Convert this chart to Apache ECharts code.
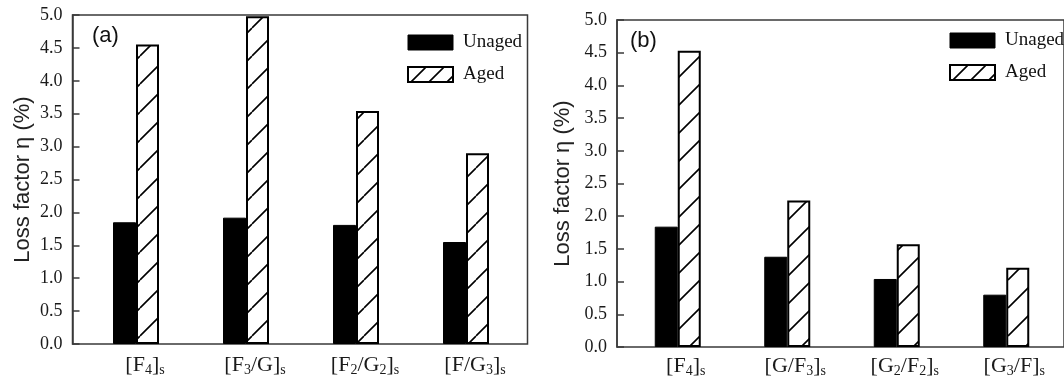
<!DOCTYPE html>
<html>
<head>
<meta charset="utf-8">
<script src="https://cdn.jsdelivr.net/npm/echarts@6/dist/echarts.min.js"></script>
<style>
  html, body { margin: 0; padding: 0; background: #fff; }
  #chart { width: 1064px; height: 385px; }
</style>
</head>
<body>
<div id="chart"></div>
<script>
// data ("_x" = subscript x)
var categoriesA = ['[F_4]_s', '[F_3/G]_s', '[F_2/G_2]_s', '[F/G_3]_s'];
var unagedA = [1.85, 1.92, 1.81, 1.55];
var agedA = [4.55, 4.98, 3.54, 2.90];

var categoriesB = ['[F_4]_s', '[G/F_3]_s', '[G_2/F_2]_s', '[G_3/F]_s'];
var unagedB = [1.84, 1.38, 1.04, 0.80];
var agedB = [4.53, 2.24, 1.57, 1.21];

var seriesNames = ['Unaged', 'Aged'];

// diagonal hatch tile
function hatch(size, lw) {
  var c = document.createElement('canvas');
  c.width = size;
  c.height = size;
  var g = c.getContext('2d');
  g.fillStyle = '#fff';
  g.fillRect(0, 0, size, size);
  g.strokeStyle = '#000';
  g.lineWidth = lw;
  g.beginPath();
  for (var k = -1; k <= 1; k++) {
    g.moveTo(k * size, size);
    g.lineTo(k * size + size, 0);
  }
  g.stroke();
  return { image: c, repeat: 'repeat' };
}
var barHatch = hatch(28, 1.6);
var legendHatch = hatch(18, 1.6);

function subLabel(v) {
  return '{n|' + v.replace(/_(.)/g, '}{sub|$1}{n|') + '}';
}

var serif = 'Liberation Serif';
var sans = 'Liberation Sans';
var frameColor = '#3a3a3a';

function frameYAxis(gridIndex, gap) {
  return {
    gridIndex: gridIndex,
    type: 'value',
    min: 0,
    max: 5,
    interval: 0.5,
    name: 'Loss factor \u03b7 (%)',
    nameLocation: 'middle',
    nameGap: gap,
    nameTextStyle: { fontFamily: sans, fontSize: 22, color: '#222' },
    axisLine: { show: true, lineStyle: { color: frameColor, width: 1.5 } },
    axisTick: { show: true, inside: true, length: 7, lineStyle: { color: frameColor, width: 1.5 } },
    axisLabel: {
      margin: 10,
      fontFamily: serif,
      fontSize: 18,
      color: '#1a1a1a',
      formatter: function (v) { return v.toFixed(1); }
    },
    splitLine: { show: false }
  };
}

function barXAxis(gridIndex, cats, margin, shift) {
  return {
    gridIndex: gridIndex,
    type: 'category',
    data: cats,
    axisLine: { show: false },
    axisTick: { show: false },
    axisLabel: {
      interval: 0,
      hideOverlap: false,
      margin: margin,
      padding: [0, 0, 0, shift],
      formatter: subLabel,
      rich: {
        n: { fontFamily: serif, fontSize: 22, lineHeight: 24, color: '#1a1a1a' },
        sub: { fontFamily: serif, fontSize: 14, lineHeight: 14, padding: [10, 0, 0, 0], color: '#1a1a1a' }
      }
    }
  };
}

function hiddenY(gridIndex) {
  return { gridIndex: gridIndex, type: 'value', min: 0, max: 5, show: false };
}

function legendFor(left, top, gap) {
  return {
    orient: 'vertical',
    left: left,
    top: top,
    padding: 0,
    itemGap: gap,
    itemWidth: 45,
    itemHeight: 15,
    icon: 'rect',
    selectedMode: false,
    textStyle: { fontFamily: serif, fontSize: 19, lineHeight: 15, color: '#111', padding: [0, 0, 0, 5] },
    data: [
      { name: 'Unaged', itemStyle: { color: '#000', borderColor: '#000', borderWidth: 1 } },
      { name: 'Aged', itemStyle: { color: legendHatch, borderColor: '#000', borderWidth: 2 } }
    ]
  };
}

function bars(name, data, xi, yi) {
  var aged = name === 'Aged';
  return {
    name: name,
    type: 'bar',
    xAxisIndex: xi,
    yAxisIndex: yi,
    data: data,
    barWidth: 23,
    barGap: '0%',
    silent: true,
    itemStyle: {
      color: aged ? barHatch : '#000',
      borderColor: '#000',
      borderWidth: aged ? 2 : 1
    }
  };
}

var option = {
  backgroundColor: '#fff',
  animation: false,
  legend: [legendFor(407, 33, 13), legendFor(949, 31, 13)],
  grid: [
    { left: 72.5, right: 536.5, top: 15, bottom: 41, show: true, borderColor: frameColor, borderWidth: 1.5 },
    { left: 81, right: 543, top: 15, bottom: 41 },
    { left: 617, right: -30, top: 20, bottom: 38, show: true, borderColor: frameColor, borderWidth: 1.5 },
    { left: 623, right: 3, top: 20, bottom: 38 }
  ],
  xAxis: [
    { gridIndex: 0, type: 'category', show: false },
    barXAxis(1, categoriesA, 9, 18),
    { gridIndex: 2, type: 'category', show: false },
    barXAxis(3, categoriesB, 7, 16)
  ],
  yAxis: [frameYAxis(0, 39), hiddenY(1), frameYAxis(2, 43), hiddenY(3)],
  graphic: [
    { type: 'text', left: 92, top: 25, style: { text: '(a)', font: '22px "Liberation Sans"', fill: '#111' } },
    { type: 'text', left: 630, top: 30, style: { text: '(b)', font: '22px "Liberation Sans"', fill: '#111' } }
  ],
  series: [
    bars(seriesNames[0], unagedA, 1, 1),
    bars(seriesNames[1], agedA, 1, 1),
    bars(seriesNames[0], unagedB, 3, 3),
    bars(seriesNames[1], agedB, 3, 3)
  ]
};

var myChart = echarts.init(document.getElementById('chart'));
myChart.setOption(option);
</script>
</body>
</html>
